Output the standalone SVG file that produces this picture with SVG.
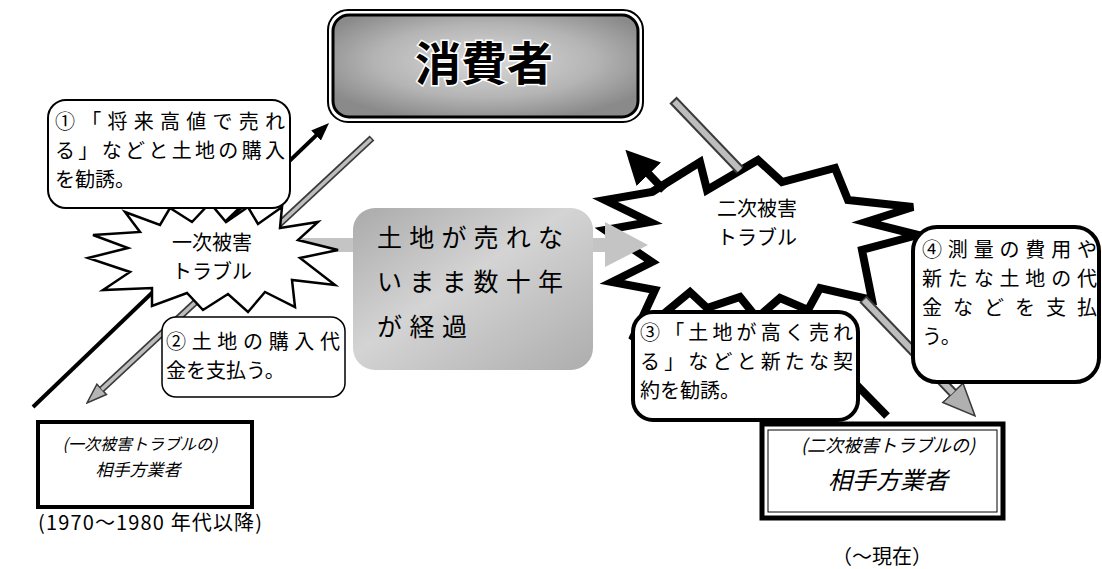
<svg xmlns="http://www.w3.org/2000/svg" width="1102" height="569" viewBox="0 0 1102 569">
<style>
.t { font-family: "Noto Sans CJK JP", "Noto Sans", sans-serif; fill: #000; }
.f20 { font-size: 20px; }
.mid { font-size: 25px; }
.it { font-style: italic; }
.cons { font-size: 46px; font-weight: 700; stroke: #fff; stroke-width: 3px; paint-order: stroke; }
.box { fill: #fff; stroke: #000; }
.blk { fill: none; stroke: #000; }
.gout { fill: none; stroke: #3a3a3a; }
.gin { fill: none; stroke: #bdbdbd; }
</style>
<defs>
  <radialGradient id="gCons" cx="0.5" cy="0.45" r="0.6">
    <stop offset="0" stop-color="#dadada"/>
    <stop offset="0.6" stop-color="#b4b4b4"/>
    <stop offset="1" stop-color="#8a8a8a"/>
  </radialGradient>
  <linearGradient id="gMid" x1="0" y1="0" x2="1" y2="1">
    <stop offset="0" stop-color="#aaaaaa"/>
    <stop offset="0.45" stop-color="#d4d4d4"/>
    <stop offset="1" stop-color="#adadad"/>
  </linearGradient>
  <marker id="mBs" markerUnits="userSpaceOnUse" markerWidth="18" markerHeight="14" refX="2" refY="7" orient="auto">
    <path d="M0,0 L18,7 L0,14 z" fill="#000"/>
  </marker>
  <marker id="mBl" markerUnits="userSpaceOnUse" markerWidth="34" markerHeight="34" refX="2" refY="17" orient="auto">
    <path d="M0,0 L34,17 L0,34 z" fill="#000"/>
  </marker>
  <marker id="mGs" markerUnits="userSpaceOnUse" markerWidth="22" markerHeight="16" refX="3" refY="8" orient="auto">
    <path d="M1,1 L21,8 L1,15 z" fill="#b5b5b5" stroke="#3a3a3a" stroke-width="1.5"/>
  </marker>
  <marker id="mGl" markerUnits="userSpaceOnUse" markerWidth="34" markerHeight="30" refX="3" refY="15" orient="auto">
    <path d="M1,1 L33,15 L1,29 z" fill="#b0b0b0" stroke="#3a3a3a" stroke-width="1.5"/>
  </marker>
</defs>
<rect width="1102" height="569" fill="#fff"/>

<g id="star2">
  <polygon points="652,192 700,162 707,190 758,160 782,182 835,168 848,200 913,207 866,222 918,235 862,250 872,300 820,288 808,310 780,298 757,318 740,297 707,308 690,292 632,340 655,290 612,282 652,262 605,230 650,222 605,200" fill="#fff" stroke="#000" stroke-width="8" stroke-linejoin="miter"/>
  <text class="t f20" text-anchor="middle"><tspan x="757" y="216">二次被害</tspan><tspan x="757" y="245">トラブル</tspan></text>
</g>

<g id="connectors">
  <path class="blk" stroke-width="4" d="M33,407 L317.5,134.1" marker-end="url(#mBs)"/>
  <path class="gout" stroke-width="7" d="M372,138 L100.2,390.7" marker-end="url(#mGs)"/>
  <path class="gin" stroke-width="3.5" d="M371,139 L101.7,389.4"/>
  <path class="blk" stroke-width="8" d="M887,416 L845,373"/>
  <path class="blk" stroke-width="8" d="M664,190 L647.5,172.8" marker-end="url(#mBl)"/>
  <path class="gout" stroke-width="10" d="M673,100 L740,170"/>
  <path class="gin" stroke-width="6" d="M674.5,101.5 L740,170"/>
  <path class="gout" stroke-width="10" d="M863,299 L954.3,394.3" marker-end="url(#mGl)"/>
  <path class="gin" stroke-width="6" d="M864,300 L952.9,392.9"/>
  <polygon points="300,238 605,238 605,222 648,245 605,267 605,252 300,252" fill="#c4c4c4"/>
</g>

<g id="star1">
  <polygon points="125,212 160,225 170,208 192,222 210,203 226,222 248,207 258,224 282,207 280,228 318,222 298,240 338,250 300,258 335,285 292,280 295,307 265,292 248,312 228,294 203,310 187,293 152,306 152,288 103,290 130,272 88,258 128,248 93,235 140,232" fill="#fff" stroke="#000" stroke-width="2.5"/>
  <text class="t f20" text-anchor="middle"><tspan x="212" y="250">一次被害</tspan><tspan x="212" y="279">トラブル</tspan></text>
</g>

<g id="decades">
  <rect x="353" y="208" width="240" height="162" rx="22" fill="url(#gMid)"/>
  <text class="t mid"><tspan x="377" y="247" textLength="186">土地が売れな</tspan><tspan x="377" y="291" textLength="186">いまま数十年</tspan><tspan x="377" y="336" textLength="90">が経過</tspan></text>
</g>

<g id="consumer">
  <rect x="328" y="10" width="315" height="112" rx="20" fill="#fff" stroke="#000" stroke-width="2"/>
  <rect x="333" y="15" width="305" height="102" rx="16" fill="url(#gCons)" stroke="#000" stroke-width="3"/>
  <text class="t cons" x="484" y="80" text-anchor="middle">消費者</text>
</g>

<g id="note1">
  <rect class="box" x="48" y="100" width="242" height="108" rx="18" stroke-width="2"/>
  <text class="t f20"><tspan x="55" y="129" textLength="230">①「将来高値で売れ</tspan><tspan x="55" y="158" textLength="230">る」などと土地の購入</tspan><tspan x="55" y="187">を勧誘。</tspan></text>
</g>

<g id="note2">
  <rect class="box" x="162" y="317" width="183" height="80" rx="14" stroke-width="1.5"/>
  <text class="t f20"><tspan x="166" y="349" textLength="174">②土地の購入代</tspan><tspan x="166" y="378">金を支払う。</tspan></text>
</g>

<g id="note3">
  <rect class="box" x="633" y="312" width="225" height="108" rx="20" stroke-width="4"/>
  <text class="t f20"><tspan x="640" y="340" textLength="213">③「土地が高く売れ</tspan><tspan x="640" y="369" textLength="213">る」などと新たな契</tspan><tspan x="640" y="398">約を勧誘。</tspan></text>
</g>

<g id="note4">
  <rect class="box" x="913" y="227" width="186" height="155" rx="24" stroke-width="4"/>
  <text class="t f20"><tspan x="922" y="257" textLength="175">④測量の費用や</tspan><tspan x="922" y="286" textLength="175">新たな土地の代</tspan><tspan x="922" y="315" textLength="175">金などを支払</tspan><tspan x="922" y="344">う。</tspan></text>
</g>

<g id="trader1">
  <rect x="38" y="422" width="214" height="85" fill="#fff" stroke="#000" stroke-width="4"/>
  <text class="t it" font-size="16" x="140" y="450" text-anchor="middle">(一次被害トラブルの)</text>
  <text class="t it" font-size="17" x="138" y="476" text-anchor="middle">相手方業者</text>
</g>
<text class="t f20" x="38" y="530" textLength="224">(1970～1980 年代以降)</text>

<g id="trader2">
  <rect x="762" y="424" width="241" height="94" fill="#fff" stroke="#000" stroke-width="5"/>
  <rect x="768" y="430" width="229" height="82" fill="none" stroke="#000" stroke-width="1"/>
  <text class="t it" font-size="18" x="888" y="452" text-anchor="middle">(二次被害トラブルの)</text>
  <text class="t it" font-size="24" x="888" y="489" text-anchor="middle">相手方業者</text>
</g>
<text class="t f20" x="882" y="564" text-anchor="middle">（～現在）</text>
</svg>
